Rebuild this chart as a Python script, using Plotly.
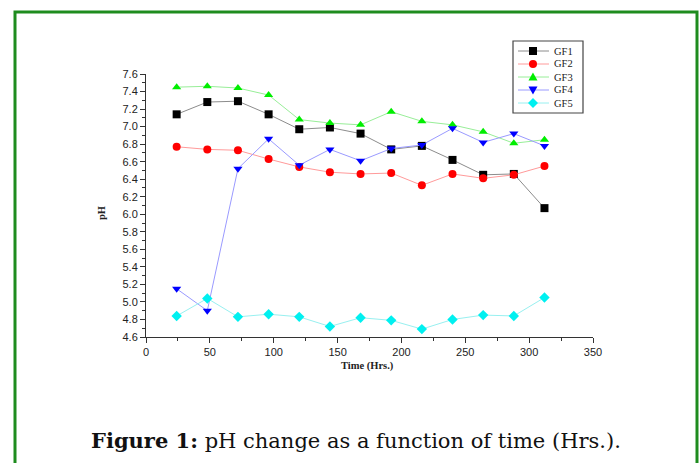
import plotly.graph_objects as go

time_hrs = [24, 48, 72, 96, 120, 144, 168, 192, 216, 240, 264, 288, 312]
gf1 = [7.14, 7.28, 7.29, 7.14, 6.97, 6.99, 6.92, 6.74, 6.78, 6.62, 6.45, 6.46, 6.07]
gf2 = [6.77, 6.74, 6.73, 6.63, 6.54, 6.48, 6.46, 6.47, 6.33, 6.46, 6.41, 6.45, 6.55]
gf3 = [7.45, 7.46, 7.44, 7.36, 7.08, 7.04, 7.02, 7.17, 7.06, 7.02, 6.94, 6.81, 6.85]
gf4 = [5.15, 4.90, 6.52, 6.86, 6.56, 6.74, 6.61, 6.75, 6.79, 6.98, 6.82, 6.92, 6.78]
gf5 = [4.84, 5.04, 4.83, 4.86, 4.83, 4.72, 4.82, 4.79, 4.69, 4.80, 4.85, 4.84, 5.05]

series_names = ["GF1", "GF2", "GF3", "GF4", "GF5"]
series_values = [gf1, gf2, gf3, gf4, gf5]
marker_colors = ["#000000", "#ff0000", "#00ee00", "#0000ff", "#00f0f0"]
line_colors = ["#8c8c8c", "#ff9a9a", "#98ee98", "#9a9aff", "#98f0f0"]
symbols = ["square", "circle", "triangle-up", "triangle-down", "diamond"]

fig = go.Figure()
for name, vals, mcol, lcol, sym in zip(series_names, series_values, marker_colors, line_colors, symbols):
    fig.add_trace(go.Scatter(
        x=time_hrs, y=vals, name=name, mode="lines+markers",
        line=dict(color=lcol, width=1),
        marker=dict(symbol=sym, size=8, color=mcol, line=dict(width=0)),
    ))

W, H = 699, 463
L, R, T, B = 146, 593, 74, 337
pw, ph = R - L, B - T

def px(x):
    return (x - L) / pw

def py(y):
    return (B - y) / ph

fig.update_layout(
    width=W, height=H,
    margin=dict(l=L, r=W - R, t=T, b=H - B),
    paper_bgcolor="white", plot_bgcolor="white",
    showlegend=False,
    font=dict(family="Liberation Sans", size=11, color="#222222"),
)

axis_common = dict(
    showgrid=False, zeroline=False,
    showline=True, linecolor="#333333", linewidth=1,
    ticks="outside", ticklen=5, tickcolor="#333333",
    tickfont=dict(family="Liberation Sans", size=11, color="#222222"),
)
fig.update_xaxes(
    range=[0, 350], dtick=50, tick0=0,
    minor=dict(ticks="outside", dtick=25, ticklen=3, tickcolor="#333333", showgrid=False),
    **axis_common,
)
fig.update_yaxes(
    range=[4.6, 7.6], dtick=0.2, tick0=4.6, tickformat=".1f",
    minor=dict(ticks="outside", dtick=0.1, ticklen=3, tickcolor="#333333", showgrid=False),
    **axis_common,
)

fig.add_annotation(
    text="<b>Time (Hrs.)</b>", xref="paper", yref="paper",
    x=px(367), y=py(366), showarrow=False, xanchor="center", yanchor="middle",
    font=dict(family="Liberation Serif", size=10.5, color="#222222"),
)
fig.add_annotation(
    text="<b>pH</b>", xref="paper", yref="paper", textangle=-90,
    x=px(101), y=py(213), showarrow=False, xanchor="center", yanchor="middle",
    font=dict(family="Liberation Serif", size=10.5, color="#222222"),
)
fig.add_annotation(
    text="<b>Figure 1:</b> pH change as a function of time (Hrs.).",
    xref="paper", yref="paper", x=px(356), y=py(440), showarrow=False,
    xanchor="center", yanchor="middle",
    font=dict(family="DejaVu Serif", size=21, color="#111111"),
)

# outer green frame
fig.add_shape(
    type="rect", xref="paper", yref="paper",
    x0=px(15), x1=px(697), y0=py(480), y1=py(12),
    line=dict(color="#1e8c1e", width=3), fillcolor="rgba(0,0,0,0)", layer="below",
)

# compact legend (drawn manually for tight row spacing)
LX0, LX1, LY0 = 513, 583, 41
row_h = 13
pad = 10
fig.add_shape(
    type="rect", xref="paper", yref="paper",
    x0=px(LX0), x1=px(LX1), y0=py(LY0 + pad + row_h * 4 + pad), y1=py(LY0),
    line=dict(color="#444444", width=1.2), fillcolor="white",
)
for i, (name, mcol, lcol, sym) in enumerate(zip(series_names, marker_colors, line_colors, symbols)):
    cy = LY0 + pad + row_h * i
    cx = 533
    fig.add_shape(type="line", xref="paper", yref="paper",
                  x0=px(518), x1=px(549), y0=py(cy), y1=py(cy),
                  line=dict(color=lcol, width=1))
    s = 4
    if sym == "square":
        fig.add_shape(type="rect", xref="paper", yref="paper",
                      x0=px(cx - s), x1=px(cx + s), y0=py(cy + s), y1=py(cy - s),
                      line=dict(width=0), fillcolor=mcol)
    elif sym == "circle":
        fig.add_shape(type="circle", xref="paper", yref="paper",
                      x0=px(cx - s), x1=px(cx + s), y0=py(cy + s), y1=py(cy - s),
                      line=dict(width=0), fillcolor=mcol)
    else:
        if sym == "triangle-up":
            pts = [(cx - 4.5, cy + 3.5), (cx + 4.5, cy + 3.5), (cx, cy - 4.5)]
        elif sym == "triangle-down":
            pts = [(cx - 4.5, cy - 3.5), (cx + 4.5, cy - 3.5), (cx, cy + 4.5)]
        else:
            pts = [(cx, cy - 5), (cx + 5, cy), (cx, cy + 5), (cx - 5, cy)]
        path = "M " + " L ".join(f"{px(a):.5f},{py(b):.5f}" for a, b in pts) + " Z"
        fig.add_shape(type="path", xref="paper", yref="paper", path=path,
                      line=dict(width=0), fillcolor=mcol)
    fig.add_annotation(
        text=name, xref="paper", yref="paper", x=px(553), y=py(cy),
        xanchor="left", yanchor="middle", showarrow=False, borderpad=0,
        font=dict(family="Liberation Serif", size=10.5, color="#222222"),
    )

fig.write_html(
    "out.html",
    config={"displayModeBar": False},
    post_script="document.body.style.margin='0px';document.body.style.overflow='hidden';",
)
